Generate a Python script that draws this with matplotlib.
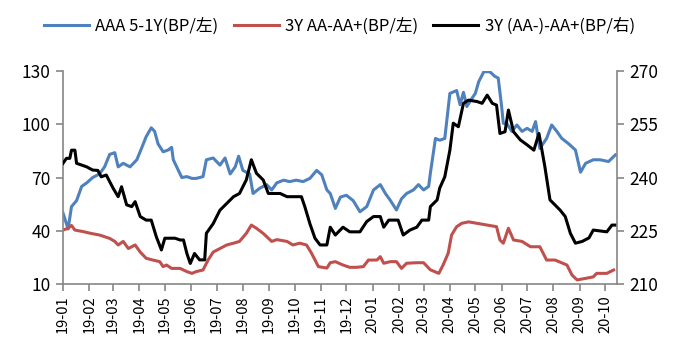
import numpy as np
import pandas as pd
import matplotlib
matplotlib.use('Agg')
import matplotlib.pyplot as plt
import matplotlib.dates as mdates

plt.rcParams['font.family'] = ['Noto Sans CJK SC', 'DejaVu Sans']

# days since 2019-01-01 and values
aaa_days = [0, 6, 10, 16, 22, 28, 35, 43, 49, 55, 61, 65, 71, 79, 87, 93, 98, 104, 108, 112,
            118, 124, 128, 130, 136, 140, 146, 152, 157, 165, 169, 177, 185, 191, 197, 203, 207,
            212, 220, 224, 232, 240, 246, 252, 260, 267, 275, 283, 291, 299, 305, 311,
            315, 321, 327, 334, 342, 350, 358, 366, 374, 380, 386, 393, 399, 405, 413, 419, 425,
            431, 433, 439, 444, 450, 456, 464, 468, 472, 476, 482, 486, 490, 496, 503, 509, 513,
            517, 519, 523, 529, 535, 541, 547, 553, 557, 562, 570, 576, 582, 588, 596, 604, 610,
            616, 625, 633, 643, 651]
aaa_vals = [50, 41, 53.6, 57, 65, 67, 70, 72, 76, 83, 84, 76, 78, 76, 80, 87, 93, 98, 96, 89,
            84.5, 85.5, 87, 80, 74, 70, 70.5, 69.5, 69.5, 70.5, 80, 81, 77, 81, 72, 76, 82,
            74, 72, 61, 64, 66, 63, 67, 68.5, 67.7, 68.5, 67.7, 69.5, 74, 71.5, 63,
            61, 52.6, 59, 60, 57, 50.7, 53.6, 63, 66, 61, 57, 51.7, 58, 61, 63, 66, 63,
            65, 72.4, 92, 91, 92, 117.4, 119, 111, 118, 110, 114.6, 117.4, 124, 129.6, 129.6, 127, 126,
            110, 100.5, 100.5, 96, 99.6, 96, 97.7, 96, 101.5, 86.4, 92, 99.6, 96, 92, 89, 85.5, 73,
            78, 80, 80, 79, 82.7]

aa_days = [0, 6, 10, 14, 24, 33, 43, 55, 61, 65, 71, 77, 85, 91, 98, 106, 114, 118, 122, 128,
           138, 146, 152, 157, 165, 171, 177, 185, 193, 201, 208, 216, 222, 228, 236, 246, 252,
           264, 271, 279, 287, 293, 301, 311, 315, 321, 330, 338, 346, 354, 360, 370, 374, 378,
           386, 393, 399, 405, 417, 425, 433, 443, 448, 454, 458, 464, 470, 478, 488, 500, 511,
           515, 519, 525, 531, 541, 551, 562, 566, 570, 580, 594, 600, 606, 614, 625, 629, 641, 649]
aa_vals = [40.4, 41.4, 43, 40.4, 39.5, 38.5, 37.6, 35.7, 34, 32, 34, 30, 32, 28, 24.5, 23.5, 22.6,
           19.8, 20.7, 18.8, 18.8, 17, 16, 17, 17.9, 23.5, 28, 30, 32, 33, 34, 38.5, 43.2, 41.4,
           38.5, 34, 35, 34, 32, 33, 32, 27.3, 19.8, 19, 22, 22.6, 20.7, 19.4, 19.4, 19.8, 23.5,
           23.5, 25.4, 21.7, 22.6, 22.6, 18.8, 21.7, 22, 22, 18, 16, 20.7, 27.3, 37.6, 42.3, 44.2,
           45, 44.2, 43.2, 42.3, 34.8, 33, 41.4, 34.8, 34, 31, 31, 27.3, 23.5, 23.5, 20.7, 15,
           12.3, 13, 14, 16, 16, 17.9]

aam_days = [0, 4, 8, 10, 14, 16, 22, 28, 31, 35, 41, 45, 51, 59, 65, 69, 75, 81, 85, 91, 98,
            104, 110, 116, 120, 126, 132, 138, 142, 146, 150, 155, 161, 167, 169, 177, 185, 193,
            201, 208, 216, 222, 228, 236, 242, 248, 256, 264, 275, 281, 285, 291, 297, 303, 311,
            315, 321, 330, 338, 350, 358, 366, 374, 378, 384, 395, 401, 409, 417, 423, 431, 433,
            441, 444, 450, 456, 460, 466, 472, 478, 488, 494, 500, 506, 511, 515, 521, 525, 531,
            539, 547, 555, 561, 568, 574, 586, 592, 598, 604, 612, 620, 625, 641, 647, 651]
aam_vals = [244, 245.4, 245.4, 247.7, 247.7, 244, 243.5, 243, 242.6, 242.1, 242, 240.2, 240.7,
            237, 234.6, 237.4, 232.3, 231.8, 233.2, 229, 228, 228, 223.3, 219.6, 222.9, 222.9,
            222.9, 222.4, 222.4, 218.6, 215.8, 218.6, 216.8, 216.8, 224.3, 227, 230.8, 232.7,
            234.6, 235.5, 239.3, 245, 241.2, 239.3, 235.5, 235.5, 235.5, 234.6, 234.6, 234.6,
            231.8, 227, 222.9, 221, 221, 226, 223.8, 226, 224.7, 224.7, 227.6, 229, 229, 226, 228,
            228, 223.8, 225.2, 226, 228, 228, 231.8, 233.7, 237, 240.2, 247.7, 255.3, 254.3, 260.9,
            261.8, 261.4, 260.9, 263.2, 260.9, 260.4, 252.4, 252.9, 259, 252.9, 250.6, 249.2,
            247.7, 252.4, 243, 233.7, 230.8, 229, 224.3, 221.5, 222, 223, 225.2, 224.7, 226.6, 226.6]

start = pd.Timestamp('2019-01-01')


def to_dates(days):
    """converts day offsets into timestamps"""
    return start + pd.to_timedelta(days, unit='D')


fig = plt.figure(figsize=(6.79, 3.54), dpi=100)
ax = fig.add_axes([0.0928, 0.1977, 0.8159, 0.6017])
ax2 = ax.twinx()

l1, = ax.plot(to_dates(aaa_days), aaa_vals, c='#4F81BD', lw=2.2, label='AAA 5-1Y(BP/左)')
l2, = ax.plot(to_dates(aa_days), aa_vals, c='#C0504D', lw=2.2, label='3Y AA-AA+(BP/左)')
l3, = ax2.plot(to_dates(aam_days), aam_vals, c='black', lw=2.2, label='3Y (AA-)-AA+(BP/右)')

ax.set_ylim(10, 130)
ax.set_yticks([10, 40, 70, 100, 130])
ax2.set_ylim(210, 270)
ax2.set_yticks([210, 225, 240, 255, 270])
ax.set_xlim(start, start + pd.Timedelta(days=653))

ax.xaxis.set_major_locator(mdates.MonthLocator())
ax.xaxis.set_major_formatter(mdates.DateFormatter('%y-%m'))
plt.setp(ax.get_xticklabels(), rotation=90)

for a in (ax, ax2):
    a.spines['top'].set_visible(False)
    for s in ('left', 'right', 'bottom'):
        a.spines[s].set_color('#868686')
        a.spines[s].set_linewidth(1.2)
    a.tick_params(colors='#868686', width=1.2, length=5, labelcolor='black', labelsize=12.5, pad=4)
ax.spines['right'].set_visible(False)
ax2.spines['left'].set_visible(False)
ax2.spines['bottom'].set_visible(False)
ax.tick_params(axis='x', labelsize=10.5, pad=3)

fig.legend(handles=[l1, l2, l3], loc='center', bbox_to_anchor=(0.5, 0.925), ncol=3,
           frameon=False, fontsize=12, handlelength=2.7, columnspacing=0.9, handletextpad=0.4)

plt.savefig('out.png', dpi=100)
